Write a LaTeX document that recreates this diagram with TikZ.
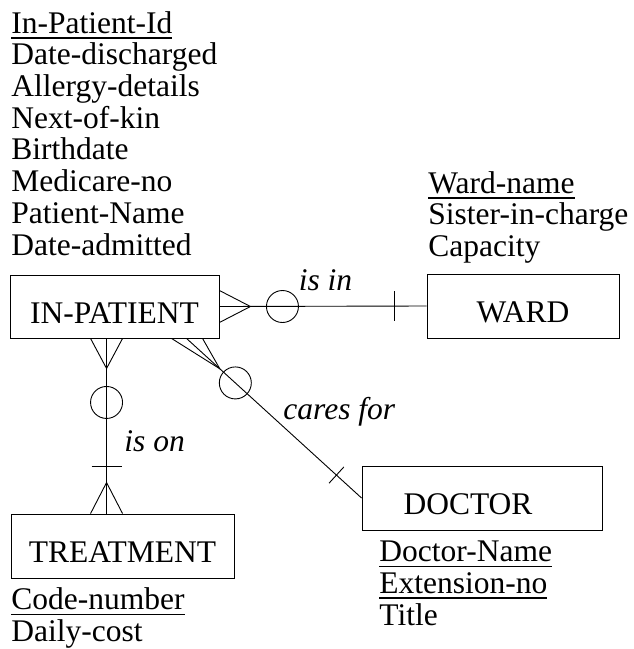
\documentclass[tikz,border=0pt]{standalone}
\usepackage{fontspec}
\setmainfont{Liberation Serif}
\usetikzlibrary{positioning,calc}
\newcommand{\diagfont}{\fontsize{31.5}{31.7}\selectfont}
\newcommand{\keyattr}[1]{\setbox0\hbox{#1}\rlap{\rule[-5.5pt]{\wd0}{1.6pt}}\box0}
\tikzset{
  entity/.style={draw, inner sep=0pt, text height=33pt, text depth=0pt},
  attrs/.style={align=left, inner sep=0pt, anchor=base west},% base = last line
  rel/.style={font=\diagfont\itshape, inner sep=0pt},
}

\begin{document}
\begin{tikzpicture}[x=1pt, y=-1pt, line width=0.9pt, font=\diagfont]
\useasboundingbox (0,0) rectangle (633,649);
% entities
\node[entity, minimum width=209pt, minimum height=63pt] (inpatient) at (114.5,306.5) {IN-PATIENT};
\node[entity, minimum width=192pt, minimum height=64pt] (ward) at (523,306) {WARD};
\node[entity, minimum width=240pt, minimum height=64pt] (doctor) at (482,498) {};
\node[entity, draw=none] (doctorname) at (468,498) {DOCTOR};
\node[entity, minimum width=223pt, minimum height=64pt] (treatment) at (122.5,546) {TREATMENT};

% attributes
\node[attrs] (ipattrs) at (11,255) {\keyattr{In-Patient-Id}\\Date-discharged\\Allergy-details\\Next-of-kin\\Birthdate\\Medicare-no\\Patient-Name\\Date-admitted};
\node[attrs] (wardattrs) at (428,256.5) {\keyattr{Ward-name}\\Sister-in-charge\\Capacity};
\node[attrs] (docattrs) at (379,625) {\keyattr{Doctor-Name}\\\keyattr{Extension-no}\\Title};
\node[attrs] (trattrs) at (11,641.5) {\keyattr{Code-number}\\Daily-cost};

% is in
\draw (inpatient.east) -- (ward.west);
\draw ($(inpatient.east)+(0,-16)$) -- ++(31,16) -- ++(-31,16);
\draw ($(inpatient.east)+(63,0)$) circle (16pt);
\draw ($(ward.west)+(-32,-15)$) -- ++(0,30);
\node[rel, anchor=base] (isin) at (325.5,290) {is in};

% is on
\coordinate (ipfoot) at ($(inpatient.south west)+(97,0)$);
\coordinate (trtop) at (ipfoot |- treatment.north);
\draw (ipfoot) -- (trtop);
\draw ($(ipfoot)+(-16,0)$) -- ++(16,30) -- ++(16,-30);
\draw ($(ipfoot)+(0,64)$) circle (16pt);
\draw ($(trtop)+(-15,-47)$) -- ++(30,0);
\draw ($(trtop)+(-16,0)$) -- ++(16,-31) -- ++(16,31);
\node[rel, anchor=base west] (ison) at (124,451) {is on};

% cares for
\coordinate (ipcorner) at ($(inpatient.south west)+(177,0)$);
\coordinate (crowtip) at ($(ipcorner)!45pt!(doctor.west)$);
\coordinate (doctick) at ($(doctor.west)!34pt!(ipcorner)$);
\draw (ipcorner) -- (doctor.west);
\draw ($(ipcorner)+(-15,0)$) -- (crowtip) -- ($(ipcorner)+(16,0)$);
\draw ($(ipcorner)!66pt!(doctor.west)$) circle (16pt);
\draw ($(doctick)!11pt!90:(doctor.west)$) -- ($(doctick)!11pt!-90:(doctor.west)$);
\node[rel, anchor=base west] (caresfor) at (283,419) {cares for};
\end{tikzpicture}
\end{document}
